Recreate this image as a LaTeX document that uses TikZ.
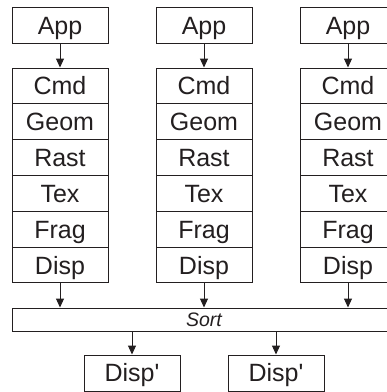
\documentclass[tikz,border=0pt]{standalone}
\usepackage{fontspec}
\newfontfamily\labelfont{Liberation Sans}
\usetikzlibrary{arrows.meta}
\definecolor{ink}{HTML}{231F20}
\begin{document}
\begin{tikzpicture}[x=1pt,y=-1pt,
  box/.style={draw=ink, line width=1pt, inner sep=0pt, text=ink},
  stage/.style={box, minimum width=96pt, minimum height=36pt,
    text height=17.9pt, text depth=0pt, font=\labelfont\fontsize{25}{25}\selectfont},
  row/.style={stage, minimum height=35.83pt},
  bar/.style={box, minimum width=384pt, minimum height=23.7pt,
    text height=14pt, text depth=0pt, font=\labelfont\itshape\fontsize{19.5}{19.5}\selectfont},
  flow/.style={draw=ink, line width=1pt, -{Triangle[length=9pt,width=8pt]}}
]
\useasboundingbox (0,0) rectangle (387,392);
\clip (0,0) rectangle (387,392);

% three pipelines: application box over a stack of six stages
\foreach \c/\x in {1/60,2/204,3/348}{
  \node[stage] (app-\c) at (\x,25.3) {App};
  \foreach \r/\t in {0/Cmd,1/Geom,2/Rast,3/Tex,4/Frag,5/Disp}{
    \node[row] (s\r-\c) at (\x,{68+35.83*(\r+0.5)}) {\t};
  }
  \draw[flow] (app-\c.south) -- (s0-\c.north);
}

% sort stage shared by all pipelines
\node[bar] (sort) at (204,319.85) {Sort};
\foreach \c in {1,2,3}{
  \draw[flow] (s5-\c.south) -- (s5-\c.south |- sort.north);
}

% re-sorted display stages
\node[stage] (dp1) at (132,373) {Disp'};
\node[stage] (dp2) at (276,373) {Disp'};
\draw[flow] (dp1.north |- sort.south) -- (dp1.north);
\draw[flow] (dp2.north |- sort.south) -- (dp2.north);
\end{tikzpicture}
\end{document}
